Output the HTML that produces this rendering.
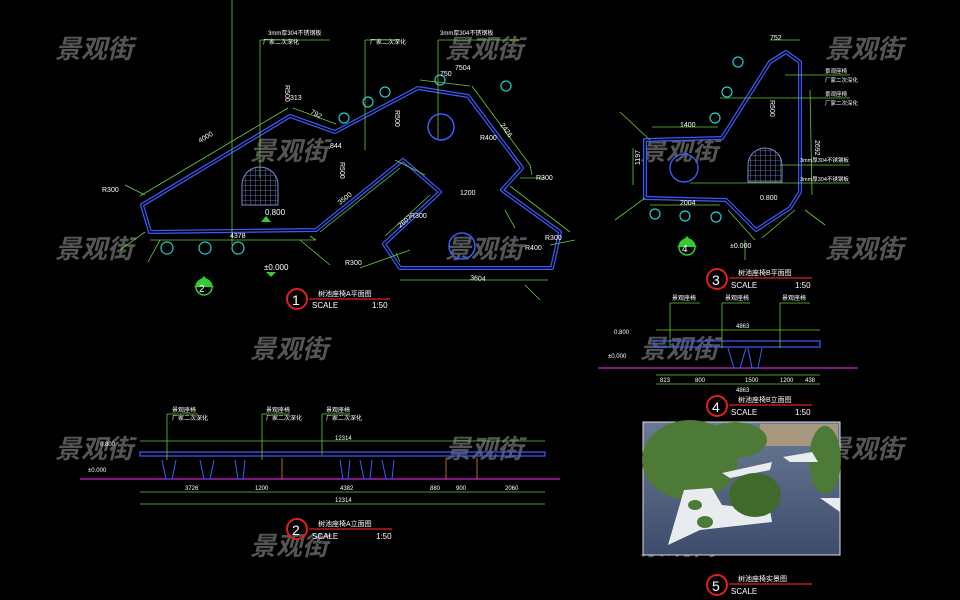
<!DOCTYPE html>
<html><head><meta charset="utf-8"><style>
html,body{margin:0;padding:0;background:#000;}
svg{display:block}
text{font-family:"Liberation Sans","Noto Sans CJK SC",sans-serif;}
</style></head><body>
<svg width="960" height="600" viewBox="0 0 960 600" xmlns="http://www.w3.org/2000/svg">
<defs>
<pattern id="grid" width="5" height="5" patternUnits="userSpaceOnUse"><path d="M0 0H5M0 0V5" stroke="#7a8ad0" stroke-width="0.8" fill="none"/></pattern>
<linearGradient id="floor" x1="0" y1="0" x2="0" y2="1"><stop offset="0" stop-color="#6a7a96"/><stop offset="1" stop-color="#3c4c6a"/></linearGradient>
</defs>
<rect width="960" height="600" fill="#000"/>

<!-- watermarks -->
<g fill="#555" font-size="26" font-weight="bold" font-style="italic">
<text x="55" y="58">景观街</text><text x="445" y="58">景观街</text><text x="825" y="58">景观街</text>
<text x="250" y="160">景观街</text><text x="640" y="160">景观街</text>
<text x="55" y="258">景观街</text><text x="445" y="258">景观街</text><text x="825" y="258">景观街</text>
<text x="250" y="358">景观街</text><text x="640" y="358">景观街</text>
<text x="55" y="458">景观街</text><text x="445" y="458">景观街</text><text x="825" y="458">景观街</text>
<text x="250" y="555">景观街</text><text x="640" y="555">景观街</text>
</g>

<!-- ===== PLAN 1 ===== -->
<g fill="none" stroke-linejoin="round">
<path d="M150 232 L142 205 L290 116 L335 132 L418 88 L468 96 L522 168 L502 190 L560 232 L552 268 L400 268 L384 244 L440 192 L403 160 L316 230 Z" stroke="#3a5cff" stroke-width="4"/>
<path d="M150 232 L142 205 L290 116 L335 132 L418 88 L468 96 L522 168 L502 190 L560 232 L552 268 L400 268 L384 244 L440 192 L403 160 L316 230 Z" stroke="#000" stroke-width="1.6"/>
</g>
<g fill="none" stroke="#66cc33" stroke-width="0.8">
<path d="M140 196 L288 108 M293 108 L336 124 M420 80 L470 86 M472 86 L530 165 M530 165 L532 175 M510 186 L570 232 M548 280 L400 280 M150 240 L316 240 M316 240 L310 236"/>
<path d="M320 232 L400 168 M395 160 L425 175 M430 195 L385 236 M396 253 L400 262"/>
<line x1="232" y1="0" x2="232" y2="245"/><line x1="260" y1="40" x2="260" y2="178"/><line x1="365" y1="40" x2="365" y2="150"/><line x1="438" y1="40" x2="438" y2="140"/>
<line x1="260" y1="40" x2="330" y2="40"/><line x1="365" y1="40" x2="400" y2="40"/><line x1="438" y1="40" x2="520" y2="40"/>
<line x1="125" y1="185" x2="145" y2="195"/><line x1="120" y1="250" x2="145" y2="232"/><line x1="148" y1="262" x2="160" y2="240"/>
<line x1="520" y1="178" x2="545" y2="178"/><line x1="550" y1="245" x2="575" y2="240"/><line x1="525" y1="285" x2="540" y2="300"/>
<line x1="410" y1="250" x2="360" y2="268"/><line x1="300" y1="240" x2="330" y2="265"/><line x1="505" y1="210" x2="515" y2="228"/>
</g>
<g fill="none" stroke="#22cccc" stroke-width="1.2">
<circle cx="167" cy="248" r="6"/><circle cx="205" cy="248" r="6"/><circle cx="238" cy="248" r="6"/>
<circle cx="344" cy="118" r="5"/><circle cx="368" cy="102" r="5"/><circle cx="385" cy="92" r="5"/>
<circle cx="440" cy="80" r="5"/><circle cx="506" cy="86" r="5"/>
</g>
<circle cx="441" cy="127" r="13" fill="none" stroke="#3a5cff" stroke-width="1.5"/>
<circle cx="462" cy="246" r="13" fill="none" stroke="#3a5cff" stroke-width="1.5"/>
<path d="M242 205 V185 A18 18 0 0 1 278 185 V205 Z" fill="url(#grid)" stroke="#7a8ad0"/>
<path d="M261 222 l5 -6 l5 6z" fill="#33cc33"/>
<text x="265" y="215" fill="#fff" font-size="8">0.800</text>
<text x="264" y="270" fill="#fff" font-size="8">±0.000</text>
<path d="M266 272 l5 5 l5 -5z" fill="#33cc33"/>
<g fill="#fff" font-size="7">
<text x="200" y="143" transform="rotate(-30 200 143)">4000</text><text x="290" y="100">313</text><text x="310" y="113" transform="rotate(30 310 113)">792</text>
<text x="330" y="148">844</text><text x="440" y="76">750</text><text x="455" y="70">7504</text><text x="500" y="125" transform="rotate(55 500 125)">2426</text>
<text x="230" y="238">4378</text><text x="340" y="205" transform="rotate(-38 340 205)">3500</text><text x="400" y="228" transform="rotate(-38 400 228)">2607</text>
<text x="470" y="280" transform="rotate(4 470 280)">3604</text><text x="536" y="180">R300</text><text x="525" y="250">R400</text>
<text x="480" y="140">R400</text><text x="102" y="192">R300</text><text x="345" y="265">R300</text><text x="545" y="240">R300</text>
<text x="410" y="218">R300</text><text x="285" y="85" transform="rotate(90 285 85)">R500</text><text x="395" y="110" transform="rotate(90 395 110)">R500</text>
<text x="340" y="162" transform="rotate(90 340 162)">R500</text><text x="460" y="195">1200</text>
</g>
<g fill="#fff" font-size="6"><text x="268" y="35">3mm厚304不锈钢板</text><text x="440" y="35">3mm厚304不锈钢板</text><text x="370" y="44">厂家二次深化</text><text x="263" y="44">厂家二次深化</text></g>
<circle cx="204" cy="287" r="8" fill="none" stroke="#33cc33" stroke-width="1.5"/><path d="M194 287 L204 276 L214 287Z" fill="#33cc33"/><text x="199" y="292" fill="#fff" font-size="10">2</text>
<circle cx="297" cy="299" r="10" fill="none" stroke="#e02020" stroke-width="2"/><text x="292" y="305" fill="#fff" font-size="14">1</text>
<line x1="309" y1="299" x2="390" y2="299" stroke="#e02020" stroke-width="1.2"/>
<text x="318" y="296" fill="#fff" font-size="7">树池座椅A平面图</text><text x="312" y="308" fill="#fff" font-size="8">SCALE</text><text x="372" y="308" fill="#fff" font-size="8">1:50</text>

<!-- ===== PLAN 3 ===== -->
<g fill="none" stroke-linejoin="round">
<path d="M645 198 L645 140 L722 138 L770 62 L786 52 L800 62 L800 192 L790 208 L756 230 L726 200 Z" stroke="#3a5cff" stroke-width="4"/>
<path d="M645 198 L645 140 L722 138 L770 62 L786 52 L800 62 L800 192 L790 208 L756 230 L726 200 Z" stroke="#000" stroke-width="1.6"/>
</g>
<circle cx="684" cy="168" r="14" fill="none" stroke="#3a5cff" stroke-width="1.4"/>
<path d="M748 182 V165 A17 17 0 0 1 782 165 V182 Z" fill="url(#grid)" stroke="#7a8ad0"/>
<g fill="none" stroke="#66cc33" stroke-width="0.8">
<path d="M652 127 L718 127 M770 40 L800 40 M810 90 L812 195 M650 205 L720 205 M728 210 L755 240 M762 238 L795 210 M633 148 L633 185"/>
<line x1="785" y1="75" x2="850" y2="75"/><line x1="720" y1="98" x2="850" y2="98"/><line x1="780" y1="165" x2="850" y2="165"/><line x1="690" y1="183" x2="850" y2="183"/>
<line x1="620" y1="112" x2="650" y2="140"/><line x1="615" y1="220" x2="645" y2="198"/><line x1="805" y1="210" x2="825" y2="225"/><line x1="745" y1="240" x2="745" y2="260"/>
</g>
<g fill="none" stroke="#22cccc" stroke-width="1.2"><circle cx="738" cy="62" r="5"/><circle cx="727" cy="92" r="5"/><circle cx="715" cy="118" r="5"/><circle cx="655" cy="214" r="5"/><circle cx="685" cy="216" r="5"/><circle cx="716" cy="217" r="5"/></g>
<g fill="#fff" font-size="7"><text x="680" y="127">1400</text><text x="680" y="205">2004</text><text x="770" y="40">752</text><text x="815" y="140" transform="rotate(90 815 140)">2692</text>
<text x="770" y="100" transform="rotate(90 770 100)">R500</text><text x="640" y="165" transform="rotate(-90 640 165)">1197</text><text x="730" y="248">±0.000</text><text x="760" y="200">0.800</text></g>
<g fill="#fff" font-size="5.5"><text x="825" y="73">景观座椅</text><text x="825" y="82">厂家二次深化</text><text x="825" y="96">景观座椅</text><text x="825" y="105">厂家二次深化</text><text x="800" y="162">3mm厚304不锈钢板</text><text x="800" y="181">3mm厚304不锈钢板</text></g>
<circle cx="687" cy="247" r="8" fill="none" stroke="#33cc33" stroke-width="1.5"/><path d="M677 247 L687 236 L697 247Z" fill="#33cc33"/><text x="682" y="252" fill="#fff" font-size="10">4</text>
<circle cx="717" cy="279" r="10" fill="none" stroke="#e02020" stroke-width="2"/><text x="712" y="285" fill="#fff" font-size="14">3</text>
<line x1="729" y1="278" x2="812" y2="278" stroke="#e02020" stroke-width="1.2"/>
<text x="738" y="275" fill="#fff" font-size="7">树池座椅B平面图</text><text x="731" y="288" fill="#fff" font-size="8">SCALE</text><text x="795" y="288" fill="#fff" font-size="8">1:50</text>

<!-- ===== ELEV 4 ===== -->
<line x1="598" y1="368" x2="858" y2="368" stroke="#d020d0" stroke-width="1.2"/>
<rect x="654" y="341" width="166" height="6" fill="none" stroke="#3a5cff" stroke-width="1.2"/>
<g fill="none" stroke="#3a5cff"><path d="M728 348 L734 368 L740 368 L746 348 M748 348 L752 368 L758 368 L762 348"/></g>
<g stroke="#66cc33" stroke-width="0.8" fill="none"><line x1="656" y1="330" x2="820" y2="330"/><line x1="656" y1="375" x2="820" y2="375"/><line x1="656" y1="384" x2="820" y2="384"/>
<line x1="670" y1="303" x2="670" y2="348"/><line x1="722" y1="303" x2="722" y2="348"/><line x1="780" y1="303" x2="780" y2="348"/><line x1="670" y1="303" x2="700" y2="303"/><line x1="722" y1="303" x2="750" y2="303"/><line x1="780" y1="303" x2="810" y2="303"/></g>
<g fill="#fff" font-size="6"><text x="736" y="328">4863</text><text x="736" y="392">4863</text><text x="660" y="382">823</text><text x="695" y="382">800</text><text x="745" y="382">1500</text><text x="780" y="382">1200</text><text x="805" y="382">438</text>
<text x="614" y="334">0.800</text><text x="608" y="358">±0.000</text><text x="672" y="300">景观座椅</text><text x="725" y="300">景观座椅</text><text x="782" y="300">景观座椅</text></g>
<circle cx="717" cy="406" r="10" fill="none" stroke="#e02020" stroke-width="2"/><text x="712" y="412" fill="#fff" font-size="14">4</text>
<line x1="729" y1="405" x2="812" y2="405" stroke="#e02020" stroke-width="1.2"/>
<text x="738" y="402" fill="#fff" font-size="7">树池座椅B立面图</text><text x="731" y="415" fill="#fff" font-size="8">SCALE</text><text x="795" y="415" fill="#fff" font-size="8">1:50</text>

<!-- ===== ELEV 2 ===== -->
<line x1="80" y1="479" x2="560" y2="479" stroke="#d020d0" stroke-width="1.2"/>
<rect x="140" y="452" width="405" height="4" fill="none" stroke="#3a5cff" stroke-width="1.2"/>
<g fill="none" stroke="#3a5cff"><path d="M162 460 L166 479 L172 479 L176 460 M200 460 L204 479 L210 479 L214 460 M235 460 L238 479 L243 479 L245 460 M340 460 L343 479 L348 479 L350 460 M360 460 L364 479 L370 479 L372 460 M382 460 L386 479 L392 479 L394 460"/></g>
<g stroke="#e08030" stroke-width="0.8"><line x1="282" y1="458" x2="282" y2="479"/><line x1="446" y1="458" x2="446" y2="479"/><line x1="477" y1="458" x2="477" y2="479"/></g>
<g stroke="#66cc33" stroke-width="0.8" fill="none"><line x1="140" y1="441" x2="545" y2="441"/><line x1="140" y1="492" x2="545" y2="492"/><line x1="140" y1="504" x2="545" y2="504"/>
<line x1="167" y1="414" x2="167" y2="460"/><line x1="262" y1="414" x2="262" y2="460"/><line x1="322" y1="414" x2="322" y2="455"/><line x1="167" y1="414" x2="198" y2="414"/><line x1="262" y1="414" x2="290" y2="414"/><line x1="322" y1="414" x2="350" y2="414"/></g>
<g fill="#fff" font-size="6"><text x="335" y="440">12314</text><text x="335" y="502">12314</text><text x="185" y="490">3726</text><text x="255" y="490">1200</text><text x="340" y="490">4382</text><text x="430" y="490">880</text><text x="456" y="490">900</text><text x="505" y="490">2060</text>
<text x="100" y="446">0.800</text><text x="88" y="472">±0.000</text><text x="172" y="412">景观座椅</text><text x="266" y="412">景观座椅</text><text x="326" y="412">景观座椅</text><text x="172" y="420">厂家二次深化</text><text x="266" y="420">厂家二次深化</text><text x="326" y="420">厂家二次深化</text></g>
<circle cx="297" cy="529" r="10" fill="none" stroke="#e02020" stroke-width="2"/><text x="292" y="535" fill="#fff" font-size="14">2</text>
<line x1="309" y1="529" x2="392" y2="529" stroke="#e02020" stroke-width="1.2"/>
<text x="318" y="526" fill="#fff" font-size="7">树池座椅A立面图</text><text x="312" y="539" fill="#fff" font-size="8">SCALE</text><text x="376" y="539" fill="#fff" font-size="8">1:50</text>

<!-- ===== PHOTO 5 ===== -->
<rect x="643" y="422" width="197" height="133" fill="url(#floor)" stroke="#ddd" stroke-width="1"/>
<rect x="760" y="424" width="78" height="22" fill="#a89880"/>
<g fill="#4d7a36"><ellipse cx="690" cy="460" rx="48" ry="40"/><ellipse cx="735" cy="440" rx="32" ry="18"/><ellipse cx="825" cy="460" rx="16" ry="34"/></g>
<g fill="#e8ecef"><path d="M668 545 L684 490 L712 488 L722 505 L770 510 L772 522 L700 530 Z"/><path d="M722 473 L772 462 L770 470 L730 478Z"/><path d="M783 457 L812 452 L818 462 L790 462Z"/><path d="M820 498 L840 498 L840 512Z"/></g>
<ellipse cx="755" cy="495" rx="26" ry="22" fill="#3f6a2c"/>
<g fill="#4d7a36"><ellipse cx="695" cy="505" rx="7" ry="5"/><ellipse cx="705" cy="522" rx="8" ry="6"/></g>
<circle cx="717" cy="585" r="10" fill="none" stroke="#e02020" stroke-width="2"/><text x="712" y="591" fill="#fff" font-size="14">5</text>
<line x1="729" y1="584" x2="812" y2="584" stroke="#e02020" stroke-width="1.2"/>
<text x="738" y="581" fill="#fff" font-size="7">树池座椅实景图</text><text x="731" y="594" fill="#fff" font-size="8">SCALE</text>
</svg>
</body></html>
